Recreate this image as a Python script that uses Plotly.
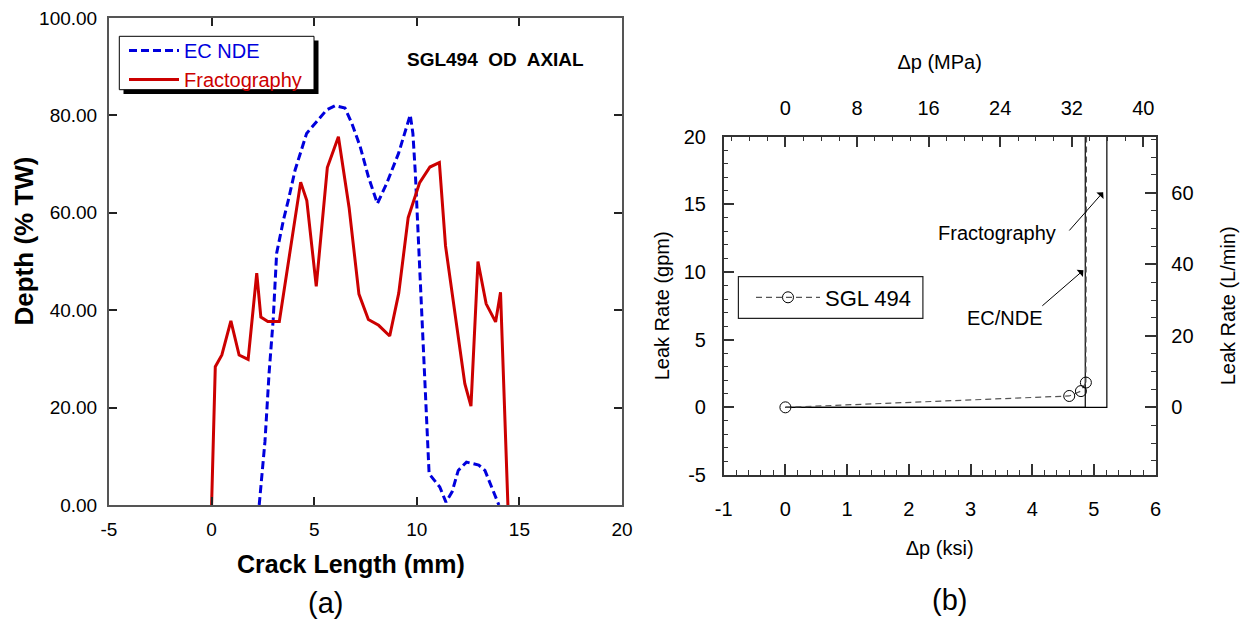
import plotly.graph_objects as go

# ---------------- Panel (a): depth profile along the crack ----------------
ec_len = [2.32, 2.6, 2.8, 3.0, 3.17, 3.5, 3.74, 4.07, 4.63, 5.12, 5.6, 6.02, 6.5,
          6.83, 7.24, 7.64, 8.08, 8.54, 9.11, 9.68, 9.81, 9.93, 10.04, 10.17, 10.27,
          10.41, 10.6, 11.12, 11.42, 11.72, 12.02, 12.42, 13.02, 13.32, 13.62, 13.92, 14.0]
ec_depth = [0.0, 13.0, 27.0, 38.0, 51.7, 58.5, 62.6, 68.8, 76.3, 78.7, 81.1, 82.0, 81.5,
            78.4, 73.6, 67.4, 61.9, 66.1, 72.2, 80.1, 76.3, 68.1, 57.8, 44.1, 34.0,
            23.8, 6.4, 3.7, 0.6, 2.7, 7.1, 8.8, 8.2, 7.1, 4.0, 0.6, 0.0]

frac_len = [0.0, 0.18, 0.5, 0.94, 1.34, 1.78, 2.2, 2.4, 2.74, 3.3, 4.34, 4.64, 5.1,
            5.64, 6.18, 6.7, 7.18, 7.64, 8.14, 8.68, 9.12, 9.58, 10.14, 10.64, 11.1,
            11.4, 12.34, 12.64, 12.98, 13.38, 13.84, 14.08, 14.44]
frac_depth = [0.0, 28.4, 30.8, 37.8, 30.8, 29.9, 47.6, 38.6, 37.7, 37.7, 66.3, 62.5, 44.9,
              69.3, 75.6, 61.1, 43.3, 38.1, 36.9, 34.7, 43.5, 59.0, 66.2, 69.4, 70.3,
              53.2, 24.9, 20.3, 50.0, 41.3, 37.6, 43.7, 0.0]

crack_ticks = [-5, 0, 5, 10, 15, 20]
crack_tick_text = ["-5", "0", "5", "10", "15", "20"]

# ---------------- Panel (b): leak rate vs. pressure differential ----------------
sgl_dp_ksi = [0.0, 4.60, 4.79, 4.87]
sgl_rate_gpm = [0.0, 0.84, 1.20, 1.83]
sgl_rise_dp = [4.87, 4.88]
sgl_rise_rate = [1.83, 20.0]

frac_model_dp = [0.0, 5.21, 5.21]
frac_model_rate = [0.0, 0.0, 20.0]
ec_model_dp = [0.0, 4.86, 4.86]
ec_model_rate = [0.0, 0.0, 20.0]

ksi_ticks = [-1, 0, 1, 2, 3, 4, 5, 6]
ksi_tick_text = ["-1", "0", "1", "2", "3", "4", "5", "6"]
gpm_ticks = [-5, 0, 5, 10, 15, 20]
gpm_tick_text = ["-5", "0", "5", "10", "15", "20"]

KSI_TO_MPA = 6.895
GPM_TO_LPM = 3.785

W, H = 1250, 620
FONT = "Liberation Sans"
RED = "#CC0000"
BLUE = "#0000DD"


def px(x):
    return x / W


def py(y):
    return 1 - y / H


fig = go.Figure()

# Panel (a) traces
fig.add_trace(go.Scatter(
    x=ec_len, y=ec_depth, mode="lines",
    name=f"<span style='color:{BLUE}'>EC NDE</span>",
    line=dict(color=BLUE, width=3, dash="8px,4px"),
    xaxis="x", yaxis="y", legend="legend"))
fig.add_trace(go.Scatter(
    x=frac_len, y=frac_depth, mode="lines",
    name=f"<span style='color:{RED}'>Fractography</span>",
    line=dict(color=RED, width=3),
    xaxis="x", yaxis="y", legend="legend"))

# Panel (b) traces
fig.add_trace(go.Scatter(
    x=frac_model_dp, y=frac_model_rate, mode="lines", showlegend=False,
    line=dict(color="black", width=1.2), xaxis="x2", yaxis="y2"))
fig.add_trace(go.Scatter(
    x=ec_model_dp, y=ec_model_rate, mode="lines", showlegend=False,
    line=dict(color="black", width=1.2), xaxis="x2", yaxis="y2"))
fig.add_trace(go.Scatter(
    x=sgl_rise_dp, y=sgl_rise_rate, mode="lines", showlegend=False,
    line=dict(color="#555", width=1.2, dash="6px,4px"), xaxis="x2", yaxis="y2"))
fig.add_trace(go.Scatter(
    x=sgl_dp_ksi, y=sgl_rate_gpm, mode="lines+markers", name="SGL 494",
    line=dict(color="#555", width=1.2, dash="6px,4px"),
    marker=dict(symbol="circle-open", size=11, color="black", line=dict(width=1)),
    xaxis="x2", yaxis="y2", legend="legend2"))
# secondary unit axes (MPa on top, L/min on the right)
fig.add_trace(go.Scatter(x=[], y=[], xaxis="x3", yaxis="y3", showlegend=False,
                         hoverinfo="skip"))

frame_a = dict(showline=True, linecolor="#555", linewidth=2, mirror="ticks",
               ticks="inside", ticklen=8, tickwidth=2, tickcolor="#222",
               showgrid=False, zeroline=False, automargin=False,
               tickfont=dict(family=FONT, size=19, color="black"))
frame_b = dict(showline=True, linecolor="#333", linewidth=1.5, mirror=False,
               ticks="inside", ticklen=11, tickwidth=1.5, tickcolor="#333",
               showgrid=False, zeroline=False, automargin=False,
               tickfont=dict(family=FONT, size=20, color="black"),
               title_font=dict(family=FONT, size=20, color="black"))

fig.update_layout(
    width=W, height=H, margin=dict(l=0, r=0, t=0, b=0, autoexpand=False),
    paper_bgcolor="white", plot_bgcolor="white",
    font=dict(family=FONT, color="black"),
    xaxis=dict(domain=[px(109), px(622)], range=[-5, 20],
               tickvals=crack_ticks, ticktext=crack_tick_text,
               anchor="y", ticklabelstandoff=6, **frame_a),
    yaxis=dict(domain=[py(505), py(18)], range=[0, 100], dtick=20, tick0=0,
               tickformat=".2f", anchor="x", ticklabelstandoff=6, **frame_a),
    xaxis2=dict(domain=[px(723.7), px(1155.6)], range=[-1, 6],
                tickvals=ksi_ticks, ticktext=ksi_tick_text,
                anchor="y2", side="bottom", ticklabelstandoff=15,
                minor=dict(dtick=0.2, tick0=0, ticks="inside", ticklen=5,
                           tickwidth=1.2, tickcolor="#333"),
                title=dict(text="Δp (ksi)", standoff=22), **frame_b),
    yaxis2=dict(domain=[py(475), py(136.7)], range=[-5, 20],
                tickvals=gpm_ticks, ticktext=gpm_tick_text,
                anchor="x2", side="left", ticklabelstandoff=12,
                minor=dict(dtick=1, tick0=0, ticks="inside", ticklen=5,
                           tickwidth=1.2, tickcolor="#333"),
                title=dict(text="Leak Rate (gpm)", standoff=9), **frame_b),
    xaxis3=dict(range=[-1 * KSI_TO_MPA, 6 * KSI_TO_MPA], dtick=8, tick0=0,
                overlaying="x2", anchor="y2", side="top", ticklabelstandoff=12,
                minor=dict(dtick=2, ticks="inside", ticklen=5, tickwidth=1.2,
                           tickcolor="#333"),
                title=dict(text="Δp (MPa)", standoff=22), **frame_b),
    yaxis3=dict(range=[-5 * GPM_TO_LPM, 20 * GPM_TO_LPM], dtick=20, tick0=0,
                overlaying="y2", anchor="x2", side="right", ticklabelstandoff=10,
                minor=dict(dtick=5, ticks="inside", ticklen=5, tickwidth=1.2,
                           tickcolor="#333"),
                title=dict(text="Leak Rate (L/min)", standoff=28), **frame_b),
    legend=dict(x=px(124), y=py(31), xanchor="left", yanchor="top",
                bgcolor="rgba(0,0,0,0)", borderwidth=0, itemwidth=50,
                font=dict(family=FONT, size=20), tracegroupgap=0),
    legend2=dict(x=px(751), y=py(297.5), xanchor="left", yanchor="middle",
                 bgcolor="rgba(0,0,0,0)", borderwidth=0, itemwidth=64,
                 font=dict(family=FONT, size=22, color="black")),
    showlegend=True,
)

# legend frames (panel (a) has a drop shadow)
fig.add_shape(type="rect", xref="paper", yref="paper",
              x0=px(123.5), x1=px(318.5), y0=py(94), y1=py(40.5),
              fillcolor="black", line=dict(width=0), layer="below")
fig.add_shape(type="rect", xref="paper", yref="paper",
              x0=px(119.3), x1=px(314), y0=py(89.7), y1=py(36.3),
              fillcolor="white", line=dict(color="black", width=1), layer="below")
fig.add_shape(type="rect", xref="paper", yref="paper",
              x0=px(738.4), x1=px(922.9), y0=py(318.3), y1=py(276.7),
              fillcolor="white", line=dict(color="#222", width=1.2), layer="below")

annots = [
    dict(text="<b>SGL494  OD  AXIAL</b>", x=px(495), y=py(59),
         font=dict(family=FONT, size=19, color="black")),
    dict(text="<b>Crack Length (mm)</b>", x=px(350.7), y=py(564),
         font=dict(family=FONT, size=25, color="black")),
    dict(text="<b>Depth (% TW)</b>", x=px(23.5), y=py(241), textangle=-90,
         font=dict(family=FONT, size=26, color="black")),
    dict(text="(a)", x=px(325.5), y=py(603),
         font=dict(family=FONT, size=29, color="black")),
    dict(text="(b)", x=px(949), y=py(600),
         font=dict(family=FONT, size=29, color="black")),
]
for a in annots:
    fig.add_annotation(xref="paper", yref="paper", showarrow=False,
                       xanchor="center", yanchor="middle", **a)

# callouts on panel (b)
fig.add_annotation(xref="x2", yref="y2", x=3.43, y=12.88, text="Fractography",
                   showarrow=False, font=dict(family=FONT, size=20, color="black"))
fig.add_annotation(xref="x2", yref="y2", x=3.556, y=6.63, text="EC/NDE",
                   showarrow=False, font=dict(family=FONT, size=20, color="black"))
fig.add_annotation(xref="x2", yref="y2", axref="x2", ayref="y2",
                   x=5.15, y=15.9, ax=4.58, ay=12.96, text="", showarrow=True,
                   arrowhead=1, arrowsize=1.6, arrowwidth=1, arrowcolor="black")
fig.add_annotation(xref="x2", yref="y2", axref="x2", ayref="y2",
                   x=4.83, y=10.13, ax=4.14, ay=7.41, text="", showarrow=True,
                   arrowhead=1, arrowsize=1.6, arrowwidth=1, arrowcolor="black")

fig.write_html("out.html")
